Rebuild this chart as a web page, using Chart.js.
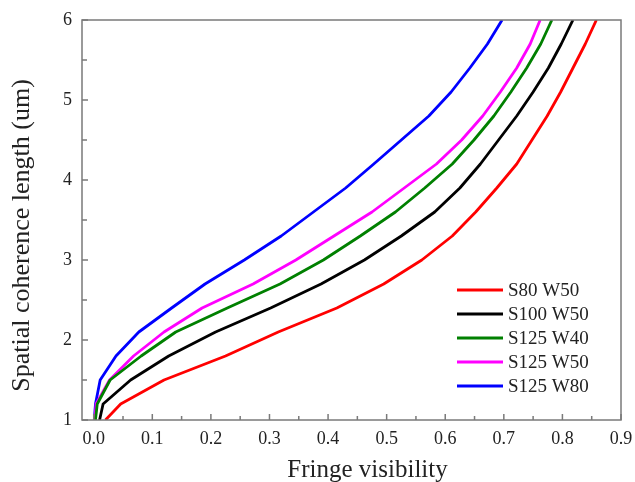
<!DOCTYPE html>
<html>
<head>
<meta charset="utf-8">
<script src="https://cdn.jsdelivr.net/npm/chart.js@4.4.0/dist/chart.umd.min.js"></script>
<style>
  html, body { margin: 0; padding: 0; background: #fff; }
</style>
</head>
<body>
<canvas id="myChart" width="635" height="482"></canvas>
<script>
// coherence length levels (y) and fringe visibility (x)
const coherenceLength = [1.0, 1.2, 1.5, 1.8, 2.1, 2.4, 2.7, 3.0, 3.3, 3.6, 3.9, 4.2, 4.5, 4.8, 5.1, 5.4, 5.7, 6.0];
const visS80W50  = [0.020, 0.046, 0.120, 0.225, 0.315, 0.415, 0.495, 0.560, 0.612, 0.652, 0.688, 0.722, 0.748, 0.774, 0.797, 0.818, 0.839, 0.858];
const visS100W50 = [0.010, 0.016, 0.063, 0.128, 0.208, 0.302, 0.388, 0.462, 0.525, 0.582, 0.625, 0.660, 0.691, 0.722, 0.750, 0.776, 0.798, 0.818];
const visS125W40 = [0.003, 0.006, 0.028, 0.081, 0.140, 0.228, 0.318, 0.392, 0.455, 0.515, 0.565, 0.612, 0.649, 0.683, 0.712, 0.739, 0.763, 0.782];
const visS125W50 = [0.002, 0.004, 0.027, 0.068, 0.120, 0.185, 0.272, 0.345, 0.410, 0.475, 0.530, 0.585, 0.628, 0.664, 0.694, 0.722, 0.745, 0.762];
const visS125W80 = [0.001, 0.003, 0.011, 0.038, 0.077, 0.133, 0.190, 0.257, 0.320, 0.375, 0.430, 0.478, 0.525, 0.572, 0.610, 0.642, 0.672, 0.697];

const seriesLabels = ['S80 W50', 'S100 W50', 'S125 W40', 'S125 W50', 'S125 W80'];
const seriesColors = ['#ff0000', '#000000', '#008000', '#ff00ff', '#0000ff'];
const seriesValues = [visS80W50, visS100W50, visS125W40, visS125W50, visS125W80];

const xTicks = [0.0, 0.1, 0.2, 0.3, 0.4, 0.5, 0.6, 0.7, 0.8, 0.9];
const yTicks = [1, 2, 3, 4, 5, 6];
const xTitle = 'Fringe visibility';
const yTitle = 'Spatial coherence length (um)';

const serif = 'Liberation Serif, Times New Roman, serif';
const axisColor = '#7a7a7a';
const textColor = '#222';

// frame + inward major/minor ticks
const framePlugin = {
  id: 'frame',
  afterDatasetsDraw(chart) {
    const { ctx, chartArea: a, scales } = chart;
    ctx.save();
    ctx.strokeStyle = axisColor;
    ctx.lineWidth = 1.5;
    ctx.strokeRect(a.left, a.top, a.right - a.left, a.bottom - a.top);

    const xs = scales.x, ys = scales.y;
    ctx.beginPath();
    xTicks.forEach((v, i) => {
      const px = xs.getPixelForValue(v);
      ctx.moveTo(px, a.bottom); ctx.lineTo(px, a.bottom - 6);
      if (i < xTicks.length - 1) {
        const mx = xs.getPixelForValue((v + xTicks[i + 1]) / 2);
        ctx.moveTo(mx, a.bottom); ctx.lineTo(mx, a.bottom - 4);
      }
    });
    yTicks.forEach((v, i) => {
      const py = ys.getPixelForValue(v);
      ctx.moveTo(a.left, py); ctx.lineTo(a.left + 6, py);
      if (i < yTicks.length - 1) {
        const my = ys.getPixelForValue((v + yTicks[i + 1]) / 2);
        ctx.moveTo(a.left, my); ctx.lineTo(a.left + 5, my);
      }
    });
    ctx.stroke();

    // axis titles (slightly off-centre as in the source figure)
    ctx.fillStyle = textColor;
    ctx.textAlign = 'center';
    ctx.textBaseline = 'alphabetic';
    ctx.font = '25px ' + serif;
    ctx.fillText(xTitle, (a.left + a.right) / 2 + 16, 477);
    ctx.translate(28.5, (a.top + a.bottom) / 2 + 15.5);
    ctx.rotate(-Math.PI / 2);
    ctx.font = '26px ' + serif;
    ctx.fillText(yTitle, 0, 0);
    ctx.restore();
  }
};

// legend in the lower right of the plot
const legendPlugin = {
  id: 'boxLegend',
  afterDatasetsDraw(chart) {
    const { ctx, chartArea: a } = chart;
    const x0 = a.right - 164, y0 = a.bottom - 130, rowH = 24;
    ctx.save();
    ctx.font = '19px ' + serif;
    ctx.textBaseline = 'middle';
    chart.data.datasets.forEach((ds, i) => {
      const y = y0 + i * rowH;
      ctx.strokeStyle = ds.borderColor;
      ctx.lineWidth = 3;
      ctx.beginPath();
      ctx.moveTo(x0, y); ctx.lineTo(x0 + 46, y);
      ctx.stroke();
      ctx.fillStyle = textColor;
      ctx.fillText(ds.label, x0 + 51, y + 1);
    });
    ctx.restore();
  }
};

const ctx = document.getElementById('myChart').getContext('2d');
new Chart(ctx, {
  type: 'line',
  data: {
    datasets: seriesLabels.map((label, i) => ({
      label: label,
      data: seriesValues[i].map((v, j) => ({ x: v, y: coherenceLength[j] })),
      borderColor: seriesColors[i],
      backgroundColor: seriesColors[i],
      borderWidth: 2.8,
      pointRadius: 0,
      tension: 0,
      borderJoinStyle: 'round',
      fill: false
    }))
  },
  options: {
    responsive: false,
    animation: false,
    devicePixelRatio: 1,
    layout: { padding: { top: 20, right: 14, left: 0, bottom: 0 } },
    plugins: {
      legend: { display: false },
      tooltip: { enabled: false }
    },
    scales: {
      x: {
        type: 'linear',
        min: -0.02,
        max: 0.9,
        afterBuildTicks: s => { s.ticks = xTicks.map(v => ({ value: v })); },
        afterFit: s => { s.height = 62; s.paddingLeft = 0; s.paddingRight = 0; },
        grid: { display: false, drawTicks: false },
        border: { display: false },
        ticks: {
          padding: 8,
          maxRotation: 0,
          color: textColor,
          font: { family: serif, size: 18 },
          callback: v => Number(v).toFixed(1)
        }
      },
      y: {
        type: 'linear',
        min: 1,
        max: 6,
        afterBuildTicks: s => { s.ticks = yTicks.map(v => ({ value: v })); },
        afterFit: s => { s.width = 82; s.paddingTop = 0; s.paddingBottom = 0; },
        grid: { display: false, drawTicks: false },
        border: { display: false },
        ticks: {
          padding: 10,
          color: textColor,
          font: { family: serif, size: 18 },
          callback: v => String(v)
        }
      }
    }
  },
  plugins: [framePlugin, legendPlugin]
});
</script>
</body>
</html>
